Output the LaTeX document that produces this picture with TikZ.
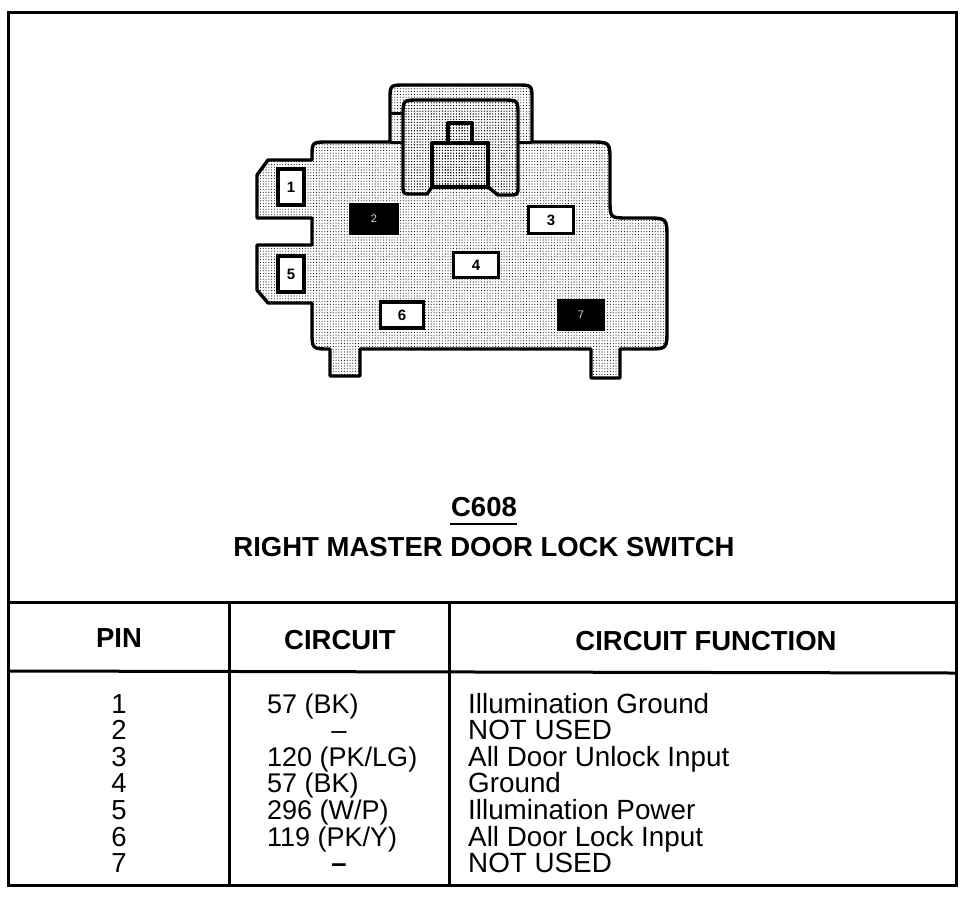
\documentclass[tikz,border=0pt]{standalone}
\usepackage{fontspec}
\setmainfont{Liberation Sans}
\usetikzlibrary{patterns,patterns.meta}

\tikzset{
  rule/.style = {line width=3pt, black},
  housing/.style = {line width=3.4pt, black, line join=round, pattern={Dots[distance=2.8pt, radius=0.55pt]}, pattern color=black},
  pinbox/.style = {draw=black, line width=3.4pt, fill=white, inner sep=0pt, font=\fontsize{15}{17}\selectfont\bfseries},
  pinblack/.style = {pinbox, fill=black, text=white!85!black, font=\fontsize{11}{13}\selectfont},
  headtext/.style = {font=\fontsize{27.5}{32}\selectfont\bfseries, inner sep=0pt},
  circuittext/.style = {font=\fontsize{27}{32}\selectfont, inner sep=0pt, anchor=base west},
  celltext/.style = {font=\fontsize{27.8}{32}\selectfont, inner sep=0pt, anchor=base west},
  pintext/.style = {font=\fontsize{27.5}{32}\selectfont, inner sep=0pt, anchor=base}
}

\begin{document}
\begin{tikzpicture}[x=1pt, y=-1pt]
  \useasboundingbox (0,0) rectangle (976,898);

  % frame and table
  \draw[rule] (8,12) rectangle (956,885);
  \draw[rule] (8,602) -- (956,602);
  \draw[rule] (8,671) -- (956,673);
  \draw[rule] (229,602) -- (229,885);
  \draw[rule] (449,602) -- (449,885);

  % connector body
  \draw[housing] (328,142) -- (390,142) -- (390,100) .. controls (390,85) .. (405,85)
    -- (517,85) .. controls (532,85) .. (532,100) -- (532,142) -- (590,142)
    .. controls (610,142) .. (610,162) -- (610,200) .. controls (610,218) .. (628,218)
    -- (646,218) .. controls (667,218) .. (667,239) -- (667,329)
    .. controls (667,349) .. (647,349) -- (620,349) -- (620,378) -- (591,378) -- (591,349)
    -- (360,349) -- (360,376) -- (330,376) -- (330,349) -- (330,349)
    .. controls (312,349) .. (312,331) -- (312,303) -- (268,303) -- (257,290) -- (257,245)
    -- (312,245) -- (312,218) -- (257,218) -- (257,175) -- (268,160) -- (312,160) -- (312,158)
    .. controls (312,142) .. (328,142) -- cycle;
  \draw[rule] (390,113) -- (403,113);
  \draw[rule] (390,142) -- (403,142);
  \draw[rule] (518,142) -- (532,142);

  % latch
  \draw[housing] (432,187) -- (427,194) -- (412,194) .. controls (403,194) .. (403,185)
    -- (403,116) .. controls (403,100) .. (419,100) -- (502,100)
    .. controls (518,100) .. (518,116) -- (518,186)
    .. controls (518,195) .. (509,195) -- (498,195) -- (488,187) -- cycle;
  \draw[housing] (448,143) rectangle (472,123);
  \draw[housing] (432,143) rectangle (488,187);

  % pins
  \node[pinbox, minimum width=26pt, minimum height=36pt] (pin1) at (291,187) {1};
  \node[pinblack, minimum width=46pt, minimum height=28pt] (pin2) at (374,219) {2};
  \node[pinbox, minimum width=45pt, minimum height=27pt] (pin3) at (551,220) {3};
  \node[pinbox, minimum width=45pt, minimum height=25pt] (pin4) at (476,265) {4};
  \node[pinbox, minimum width=26pt, minimum height=36pt] (pin5) at (291,274) {5};
  \node[pinbox, minimum width=43pt, minimum height=26pt] (pin6) at (402,315) {6};
  \node[pinblack, minimum width=45pt, minimum height=28pt] (pin7) at (581,315) {7};

  % titles
  \node[headtext] (connector) at (484,507) {C608};
  \draw[line width=2pt] (450,524) -- (517,524);
  \node[headtext] (switch) at (484,547) {RIGHT MASTER DOOR LOCK SWITCH};

  % table heads
  \node[headtext] (headpin) at (119,638) {PIN};
  \node[headtext] (headcircuit) at (340,640) {CIRCUIT};
  \node[headtext] (headfunction) at (706,641) {CIRCUIT FUNCTION};

  % table rows
  \foreach \row/\ypos/\circuit/\function in {
    1/713/{57 (BK)}/{Illumination Ground},
    2/739/{}/{NOT USED},
    3/766/{120 (PK/LG)}/{All Door Unlock Input},
    4/792/{57 (BK)}/{Ground},
    5/819/{296 (W/P)}/{Illumination Power},
    6/846/{119 (PK/Y)}/{All Door Lock Input},
    7/872/{}/{NOT USED}} {
    \node[pintext] (pinno\row) at (119,\ypos) {\row};
    \node[circuittext] (circuit\row) at (267,\ypos) {\circuit};
    \node[celltext] (function\row) at (468,\ypos) {\function};
  }
  \node[pintext] (dash2) at (339,739) {--};
  \node[pintext] (dash7) at (339,872) {\textbf{--}};
\end{tikzpicture}
\end{document}
